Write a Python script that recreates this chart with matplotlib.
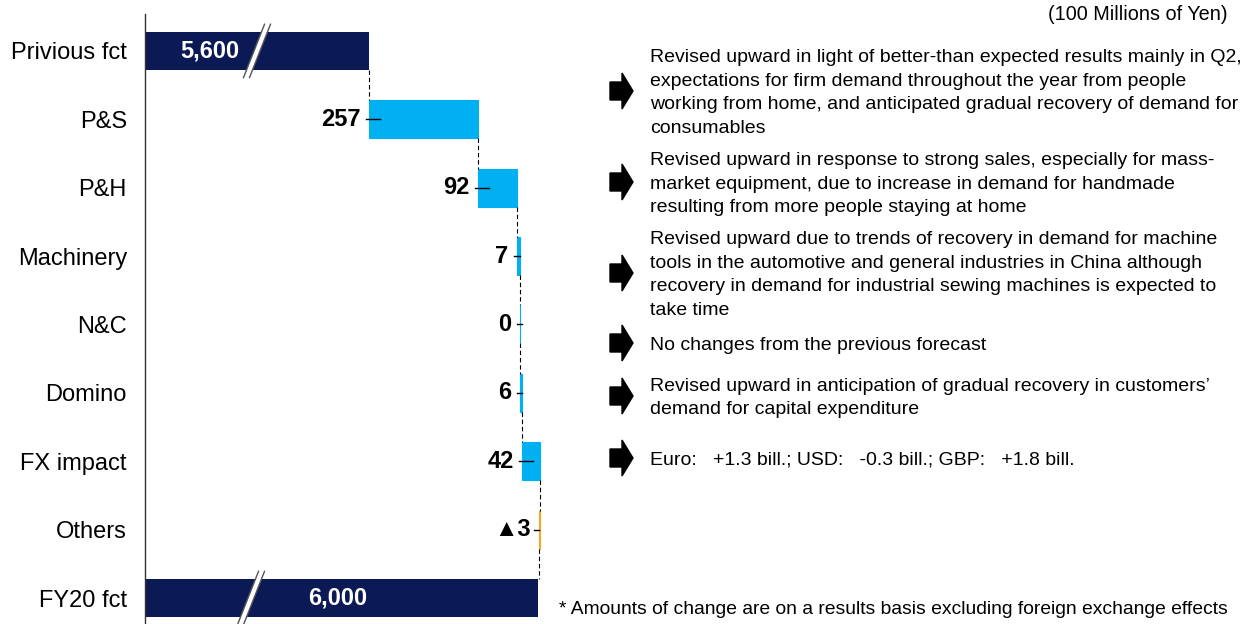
import matplotlib
matplotlib.use("Agg")
import matplotlib.pyplot as plt
from matplotlib.patches import Polygon

plt.rcParams['font.family'] = ['Liberation Sans', 'DejaVu Sans']

# data (100 millions of yen)
categories = ["Privious fct", "P&S", "P&H", "Machinery", "N&C", "Domino", "FX impact", "Others", "FY20 fct"]
prev_fct = 5600
changes = [257, 92, 7, 0, 6, 42, -3]
new_fct = 6000
change_labels = ["257", "92", "7", "0", "6", "42", "\u25b23"]
comments = [
    ["Revised upward in light of better-than expected results mainly in Q2,",
     "expectations for firm demand throughout the year from people",
     "working from home, and anticipated gradual recovery of demand for",
     "consumables"],
    ["Revised upward in response to strong sales, especially for mass-",
     "market equipment, due to increase in demand for handmade",
     "resulting from more people staying at home"],
    ["Revised upward due to trends of recovery in demand for machine",
     "tools in the automotive and general industries in China although",
     "recovery in demand for industrial sewing machines is expected to",
     "take time"],
    ["No changes from the previous forecast"],
    ["Revised upward in anticipation of gradual recovery in customers\u2019",
     "demand for capital expenditure"],
    ["Euro:   +1.3 bill.; USD:   -0.3 bill.; GBP:   +1.8 bill."],
]

NAVY = "#0b1a55"
BLUE = "#00b0f0"
ORANGE = "#f5a623"

W, H = 1257, 624
fig = plt.figure(figsize=(W / 100, H / 100), dpi=100)
ax = fig.add_axes([145 / W, 0, 415 / W, 610 / H])

xmin, xmax = 5070, 6051
ax.set_xlim(xmin, xmax)
ax.set_ylim(8.38, -0.54)
px = (xmax - xmin) / 415.0  # data units per pixel

bh = 0.555
# totals
ax.barh(0, prev_fct, height=bh, color=NAVY)
ax.barh(8, new_fct, height=bh, color=NAVY)

# changes
run = prev_fct
ends = [prev_fct]
for i, v in enumerate(changes):
    row = i + 1
    col = ORANGE if v < 0 else BLUE
    ax.barh(row, v, left=run, height=bh, color=col, edgecolor=col, linewidth=0.8)
    left = min(run, run + v)
    seg = min(11 * px, max(abs(v), 2 * px))
    if v < 0:
        ax.plot([left - 5 * px, left], [row, row], color="black", lw=1)
    else:
        ax.plot([left - 3 * px, left + seg], [row, row], color="black", lw=1)
    ax.annotate(change_labels[i], (left, row), xytext=(-6, 0), textcoords="offset points",
                ha="right", va="center", fontsize=17, fontweight="bold")
    run += v
    ends.append(run)

# connector lines
for i, e in enumerate(ends):
    ax.plot([e, e], [i + bh / 2, i + 1 - bh / 2], color="black", lw=0.8, ls=(0, (4, 2.5)))

# total labels
ax.text(xmin + 65 * px, 0, "{:,}".format(prev_fct), ha="center", va="center",
        fontsize=17, fontweight="bold", color="white")
ax.text(xmin + 193 * px, 8, "{:,}".format(new_fct), ha="center", va="center",
        fontsize=17, fontweight="bold", color="white")

# axis break marks
def brk(xc, row):
    hh = 0.39
    s = 10.5 * px
    g = 3 * px
    pts = [(xc - s - g, row + hh), (xc - s + g, row + hh), (xc + s + g, row - hh), (xc + s - g, row - hh)]
    ax.add_patch(Polygon(pts, closed=True, facecolor="white", edgecolor="none", zorder=5, clip_on=False))
    for d in (-g, g):
        ax.plot([xc - s + d, xc + s + d], [row + hh, row - hh], color="#555555", lw=1, zorder=6, clip_on=False)

brk(xmin + 112 * px, 0)
brk(xmin + 106 * px, 8)

ax.set_yticks(range(len(categories)))
ax.set_yticklabels(categories, fontsize=17)
ax.tick_params(axis="y", length=0, pad=13)
ax.set_xticks([])
for s in ["top", "right", "bottom"]:
    ax.spines[s].set_visible(False)
ax.spines["left"].set_color("#333333")
ax.spines["left"].set_linewidth(1)

# right-hand comments with arrow icons
def fx(x):
    return x / W

def fy(y):
    return 1 - y / H

centers = [93, 184, 275, 345, 398, 460]
pitch = 23.7
for c, lines in zip(centers, comments):
    n = len(lines)
    for k, line in enumerate(lines):
        yl = c + (k - (n - 1) / 2) * pitch
        fig.text(fx(650), fy(yl), line, ha="left", va="center", fontsize=14)
    ac = c - 2
    arrow = [(610, ac - 9), (622, ac - 9), (622, ac - 18), (633, ac), (622, ac + 18),
             (622, ac + 9), (610, ac + 9)]
    fig.add_artist(Polygon([(fx(a), fy(b)) for a, b in arrow], closed=True,
                           facecolor="black", edgecolor="black", transform=fig.transFigure))

fig.text(fx(1228), fy(14), "(100 Millions of Yen)", ha="right", va="center", fontsize=14.3)
fig.text(fx(1228), fy(609), "* Amounts of change are on a results basis excluding foreign exchange effects",
         ha="right", va="center", fontsize=13.9)

fig.savefig("out.png", dpi=100)
